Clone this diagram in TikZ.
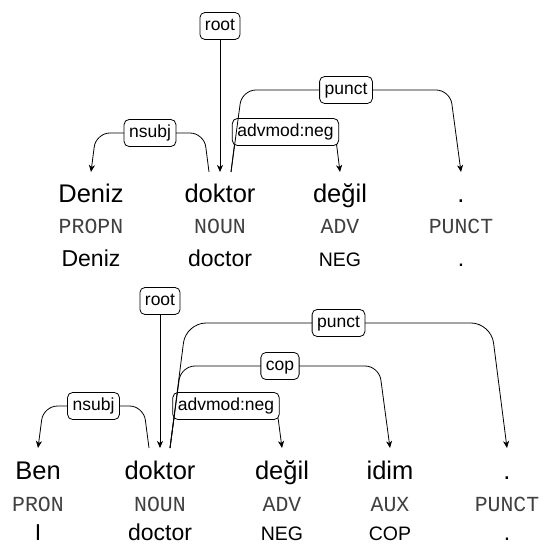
\documentclass[tikz,border=0pt]{standalone}
\usepackage{fontspec}
\setmainfont{Liberation Sans}
\setmonofont{Liberation Mono}
\usetikzlibrary{positioning,calc,arrows.meta}

\tikzset{
  word/.style={anchor=base,inner sep=0pt,font=\fontsize{25.5}{30}\selectfont},
  tag/.style={anchor=base,inner sep=0pt,text=black!75,font=\ttfamily\fontsize{21.5}{26}\selectfont},
  gl/.style={anchor=base,inner sep=0pt,font=\fontsize{23}{27}\selectfont},
  glsc/.style={anchor=base,inner sep=0pt,font=\fontsize{19.5}{23}\selectfont},
  rel/.style={draw,fill=white,rounded corners=5pt,inner xsep=5pt,inner ysep=5pt,
    text height=13pt,text depth=4pt,line width=0.8pt,font=\fontsize{17.5}{21}\selectfont},
  dep/.style={-{Stealth[length=7pt,width=6pt,inset=2pt]},line width=0.8pt,rounded corners=#1},
  dep/.default=14pt
}

\begin{document}
\begin{tikzpicture}[x=1pt,y=-1pt]
\useasboundingbox (0,0) rectangle (544,545);

% Deniz doktor degil .
\node[word] (deniz)   at (91,202)  {Deniz};
\node[word] (doktorA) at (220,202) {doktor};
\node[word] (degilA)  at (340,202) {değil};
\node[word] (dotA)    at (461,202) {.};
\node[tag] (propn)  at (91,233)  {PROPN};
\node[tag] (nounA)  at (220,233) {NOUN};
\node[tag] (advA)   at (340,233) {ADV};
\node[tag] (punctA) at (461,233) {PUNCT};
\node[gl]   (glDeniz)  at (91,266)  {Deniz};
\node[gl]   (glDoktorA) at (220,266) {doctor};
\node[glsc] (glNegA)   at (340,266) {NEG};
\node[gl]   (glDotA)   at (461,266) {.};

\node[rel] (rootA) at (220,26) {root};
\draw[dep] (rootA) -- ($(doktorA.base)+(0,-30)$);
\draw[dep] ($(doktorA.base)+(-11,-30)$) -- ($(doktorA.base)+(-16,-69)$)
  -- node[rel] (nsubjA) {nsubj} ($(deniz.base)+(5,-69)$) -- ($(deniz.base)+(0,-30)$);
\draw[dep] ($(doktorA.base)+(11,-30)$) -- ($(doktorA.base)+(16,-70)$)
  -- node[rel] (advmodA) {advmod:neg} ($(degilA.base)+(-5,-70)$) -- ($(degilA.base)+(0,-30)$);
\draw[dep] ($(doktorA.base)+(11,-30)$) -- ($(doktorA.base)+(22,-112)$)
  -- node[rel] (puA) {punct} ($(dotA.base)+(-11,-112)$) -- ($(dotA.base)+(0,-30)$);

% Ben doktor degil idim .
\node[word] (ben)     at (38,479)  {Ben};
\node[word] (doktorB) at (160,479) {doktor};
\node[word] (degilB)  at (282,479) {değil};
\node[word] (idim)    at (390,479) {idim};
\node[word] (dotB)    at (507,479) {.};
\node[tag] (pron)   at (38,511)  {PRON};
\node[tag] (nounB)  at (160,511) {NOUN};
\node[tag] (advB)   at (282,511) {ADV};
\node[tag] (aux)    at (390,511) {AUX};
\node[tag] (punctB) at (507,511) {PUNCT};
\node[gl]   (glBen)     at (38,540)  {I};
\node[gl]   (glDoktorB) at (160,540) {doctor};
\node[glsc] (glNegB)    at (282,540) {NEG};
\node[glsc] (glCop)     at (390,540) {COP};
\node[gl]   (glDotB)    at (507,540) {.};

\node[rel] (rootB) at (160,301) {root};
\draw[dep] (rootB) -- ($(doktorB.base)+(0,-31)$);
\draw[dep] ($(doktorB.base)+(-11,-31)$) -- ($(doktorB.base)+(-16.5,-73)$)
  -- node[rel] (nsubjB) {nsubj} ($(ben.base)+(5.5,-73)$) -- ($(ben.base)+(0,-31)$);
\draw[dep] ($(doktorB.base)+(10,-31)$) -- ($(doktorB.base)+(15.5,-73)$)
  -- node[rel] (advmodB) {advmod:neg} ($(degilB.base)+(-5.5,-73)$) -- ($(degilB.base)+(0,-31)$);
\draw[dep] ($(doktorB.base)+(10,-31)$) -- ($(doktorB.base)+(21,-113)$)
  -- node[rel] (copB) {cop} ($(idim.base)+(-11,-113)$) -- ($(idim.base)+(0,-31)$);
\draw[dep=20pt] ($(doktorB.base)+(10,-31)$) -- ($(doktorB.base)+(26,-156)$)
  -- node[rel] (puB) {punct} ($(dotB.base)+(-16,-156)$) -- ($(dotB.base)+(0,-31)$);
\end{tikzpicture}
\end{document}
